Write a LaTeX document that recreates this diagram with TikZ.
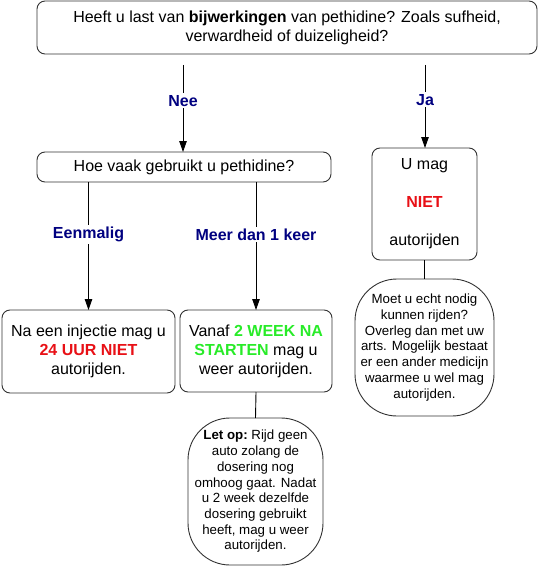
\documentclass[tikz,border=0pt]{standalone}
\usepackage{fontspec}
\setmainfont{Liberation Sans}
\usetikzlibrary{arrows.meta}
\definecolor{lblnavy}{RGB}{0,0,128}
\definecolor{warnred}{RGB}{232,16,22}
\definecolor{okgreen}{RGB}{40,235,40}
\definecolor{linegray}{RGB}{50,50,50}
\tikzset{
  box/.style={draw=linegray, line width=0.9pt, rounded corners=8pt, align=center,
    inner sep=0pt, outer sep=0pt, font=\fontsize{16}{19}\selectfont},
  bubble/.style={draw=linegray, line width=0.9pt, rounded corners=42pt, align=center,
    inner sep=0pt, outer sep=0pt, font=\fontsize{13.3}{15.7}\selectfont},
  arr/.style={line width=0.9pt, -{Triangle[length=11pt,width=7.5pt]}},
  plain/.style={line width=0.9pt},
  lbl/.style={fill=white, inner sep=2pt, text=lblnavy, font=\fontsize{16}{19}\selectfont\bfseries}
}
\begin{document}
\begin{tikzpicture}[x=1pt, y=-1pt]
\useasboundingbox (0,0) rectangle (539,567);

\node[box, minimum width=500pt, minimum height=53pt] (top) at (287,27.5)
  {Heeft u last van \textbf{bijwerkingen} van pethidine? Zoals sufheid,\\verwardheid of duizeligheid?};

\node[box, minimum width=294pt, minimum height=30pt] (hoe) at (184,167)
  {Hoe vaak gebruikt u pethidine?};

\node[box, minimum width=105pt, minimum height=112pt] (umag) at (424.5,204)
  {U mag\\[19pt]\textcolor{warnred}{\textbf{NIET}}\\[19pt]autorijden};

\node[box, minimum width=173pt, minimum height=83pt] (na) at (88.5,351.5)
  {Na een injectie mag u\\\textcolor{warnred}{\textbf{24 UUR NIET}}\\autorijden.};

\node[box, minimum width=152pt, minimum height=82pt] (vanaf) at (256,351)
  {Vanaf \textcolor{okgreen}{\textbf{2 WEEK NA}}\\\textcolor{okgreen}{\textbf{STARTEN}} mag u\\weer autorijden.};

\node[bubble, minimum width=139pt, minimum height=137pt] (moet) at (424.5,347.5)
  {Moet u echt nodig\\kunnen rijden?\\Overleg dan met uw\\arts. Mogelijk bestaat\\er een ander medicijn\\waarmee u wel mag\\autorijden.};

\node[bubble, minimum width=135pt, minimum height=147pt] (letop) at (255.5,491.5)
  {\textbf{Let op:}~Rijd geen\\auto zolang de\\dosering nog\\omhoog gaat. Nadat\\u 2 week dezelfde\\dosering gebruikt\\heeft, mag u weer\\autorijden.};

\coordinate (neeS) at (183,65);
\coordinate (jaS) at (425,65);

\draw[arr] (neeS) -- node[lbl, pos=0.41] {Nee} (neeS |- hoe.north);
\draw[arr] (jaS) -- node[lbl, pos=0.42] {Ja} (jaS |- umag.north);
\draw[arr] (na.north |- hoe.south) -- node[lbl, pos=0.41] {Eenmalig} (na.north);
\draw[arr] (vanaf.north |- hoe.south) -- node[lbl, pos=0.41] {Meer dan 1 keer} (vanaf.north);
\draw[plain] (vanaf.south) -- (letop.north);
\draw[plain] (umag.south) -- (moet.north);
\end{tikzpicture}
\end{document}
